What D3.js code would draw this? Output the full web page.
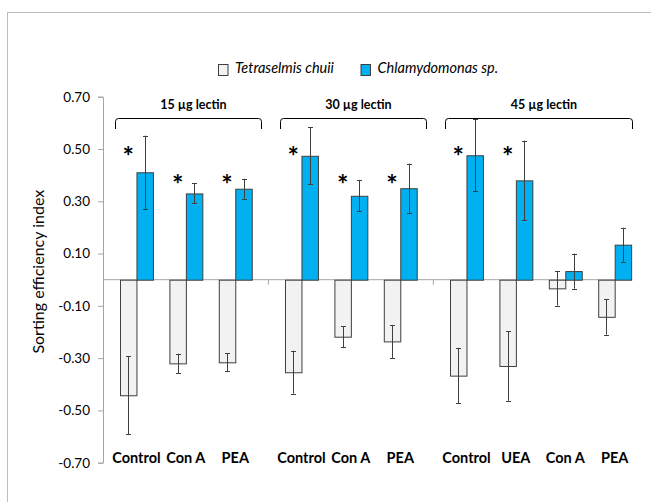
<!DOCTYPE html>
<html>
<head>
<meta charset="utf-8">
<script src="https://cdn.jsdelivr.net/npm/d3@7"></script>
<style>
  html, body { margin: 0; padding: 0; background: #fff; }
  svg { display: block; }
  text { font-family: Lato, "Open Sans", sans-serif; fill: #000; }
</style>
</head>
<body>
<svg id="chart" width="651" height="502"></svg>
<script>
// Lectin treatments, grouped by lectin dose
const groupLabels = ["15 µg lectin", "30 µg lectin", "45 µg lectin"];
const categories = ["Control", "Con A", "PEA", "Control", "Con A", "PEA", "Control", "UEA", "Con A", "PEA"];
const groupIndex = [0, 0, 0, 1, 1, 1, 2, 2, 2, 2];

// Sorting efficiency index (mean) and error for each species
const seriesNames = ["Tetraselmis chuii", "Chlamydomonas sp."];
const tetraselmis = [-0.442, -0.320, -0.316, -0.354, -0.218, -0.236, -0.367, -0.330, -0.033, -0.142];
const tetraselmisErr = [0.150, 0.037, 0.034, 0.082, 0.040, 0.063, 0.106, 0.133, 0.066, 0.068];
const chlamydomonas = [0.411, 0.330, 0.348, 0.474, 0.321, 0.350, 0.476, 0.380, 0.033, 0.134];
const chlamydomonasErr = [0.140, 0.038, 0.038, 0.109, 0.060, 0.094, 0.138, 0.152, 0.067, 0.065];

// Significance markers: height (index units) of the asterisk, null = not significant
const starLevel = [0.49, 0.38, 0.38, 0.49, 0.38, 0.38, 0.49, 0.49, null, null];

const yTicks = [0.70, 0.50, 0.30, 0.10, -0.10, -0.30, -0.50, -0.70];

const colors = ["#f2f2f2", "#00b0f0"];
const barStroke = "#3f3f3f";
const axisColor = "#a6a6a6";

const svg = d3.select("#chart");

// Outer frame
svg.append("rect")
  .attr("x", 7.5).attr("y", 12.5)
  .attr("width", 720).attr("height", 600)
  .attr("fill", "none").attr("stroke", "#bdbdbd").attr("stroke-width", 1);

// Slot positions: one slot per treatment, with an extra gap between dose groups
const groupGap = 0.34;
const slot = categories.map((c, i) => i + groupGap * groupIndex[i]);
const barW = 1 / 3; // each bar is a third of a slot

const x = d3.scaleLinear().domain([-0.344, 10.364]).range([103, 632]);
const y = d3.scaleLinear().domain([-0.7, 0.7]).range([462.7, 96.7]);

// Y axis
const yAxis = d3.axisLeft(y).tickValues(yTicks).tickFormat(d3.format(".2f")).tickSize(5).tickPadding(8);
const yG = svg.append("g").attr("transform", "translate(103,0)").call(yAxis);
yG.select(".domain").attr("stroke", axisColor);
yG.selectAll(".tick line").attr("stroke", axisColor);
yG.selectAll(".tick text")
  .attr("font-family", "Lato, sans-serif").attr("font-size", 13.5).attr("fill", "#000")
  .text(d => d3.format(".2f")(d).replace("−", "-"));

// Y title
svg.append("text")
  .attr("transform", `translate(44,${271.7}) rotate(-90)`)
  .attr("text-anchor", "middle")
  .attr("font-size", 16)
  .text("Sorting efficiency index");

// Zero baseline
svg.append("line")
  .attr("x1", x.range()[0]).attr("x2", x.range()[1])
  .attr("y1", y(0)).attr("y2", y(0))
  .attr("stroke", axisColor);

// Separator ticks between dose groups
const sepSlots = [];
for (let i = 1; i < categories.length; i++) {
  if (groupIndex[i] !== groupIndex[i - 1]) {
    sepSlots.push(((slot[i - 1] + 2 * barW) + slot[i]) / 2);
  }
}
svg.selectAll(".sep").data(sepSlots).join("line")
  .attr("x1", d => x(d)).attr("x2", d => x(d))
  .attr("y1", y(0)).attr("y2", y(0) + 5)
  .attr("stroke", axisColor);

// Bars
const series = [
  { values: tetraselmis, err: tetraselmisErr, offset: 0, color: colors[0] },
  { values: chlamydomonas, err: chlamydomonasErr, offset: barW, color: colors[1] }
];

series.forEach(s => {
  const g = svg.append("g");
  const data = s.values.map((v, i) => ({ v, e: s.err[i], xs: slot[i] + s.offset }));
  g.selectAll("rect").data(data).join("rect")
    .attr("x", d => x(d.xs) + 0.5)
    .attr("width", d => x(d.xs + barW) - x(d.xs))
    .attr("y", d => Math.min(y(d.v), y(0)) + 0.5)
    .attr("height", d => Math.abs(y(d.v) - y(0)))
    .attr("fill", s.color)
    .attr("stroke", barStroke).attr("stroke-width", 1);

  // Error bars
  const eg = g.selectAll(".err").data(data).join("g").attr("class", "err");
  const cx = d => Math.round(x(d.xs + barW / 2)) + 0.5;
  eg.append("line")
    .attr("x1", cx).attr("x2", cx)
    .attr("y1", d => y(d.v + d.e)).attr("y2", d => y(d.v - d.e))
    .attr("stroke", "#3f3f3f").attr("stroke-width", 1);
  [1, -1].forEach(sgn => {
    eg.append("line")
      .attr("x1", d => cx(d) - 2.5).attr("x2", d => cx(d) + 2.5)
      .attr("y1", d => Math.round(y(d.v + sgn * d.e)) + 0.5)
      .attr("y2", d => Math.round(y(d.v + sgn * d.e)) + 0.5)
      .attr("stroke", "#3f3f3f").attr("stroke-width", 1);
  });
});

// Significance asterisks
svg.selectAll(".star")
  .data(starLevel.map((lv, i) => ({ lv, i })).filter(d => d.lv !== null))
  .join("text")
  .attr("class", "star")
  .attr("x", d => x(slot[d.i] + barW / 2))
  .attr("y", d => y(d.lv) + 14)
  .attr("text-anchor", "middle")
  .attr("font-size", 27)
  .attr("font-weight", "bold")
  .text("*");

// Category labels
svg.selectAll(".cat").data(categories).join("text")
  .attr("class", "cat")
  .attr("x", (d, i) => x(slot[i] + barW))
  .attr("y", 463)
  .attr("text-anchor", "middle")
  .attr("font-size", 14.5)
  .attr("font-weight", "bold")
  .text(d => d);

// Dose brackets with labels
const bracketTop = 118.5, bracketBottom = 129, r = 3;
groupLabels.forEach((label, gi) => {
  const idx = d3.range(categories.length).filter(i => groupIndex[i] === gi);
  const x0 = Math.round(x(slot[idx[0]]) - 5) + 0.5;
  const x1 = Math.min(Math.round(x(slot[idx[idx.length - 1]] + 2 * barW) + 9), x.range()[1]) + 0.5;
  const p = d3.path();
  p.moveTo(x0, bracketBottom);
  p.lineTo(x0, bracketTop + r);
  p.quadraticCurveTo(x0, bracketTop, x0 + r, bracketTop);
  p.lineTo(x1 - r, bracketTop);
  p.quadraticCurveTo(x1, bracketTop, x1, bracketTop + r);
  p.lineTo(x1, bracketBottom);
  svg.append("path").attr("d", p.toString())
    .attr("fill", "none").attr("stroke", "#000").attr("stroke-width", 1);
  svg.append("text")
    .attr("x", (x0 + x1) / 2 + 5).attr("y", 108.5)
    .attr("text-anchor", "middle")
    .attr("font-size", 12.5)
    .attr("font-weight", "bold")
    .text(label);
});

// Legend
const legend = [
  { name: seriesNames[0], color: colors[0], x: 218.5 },
  { name: seriesNames[1], color: colors[1], x: 361 }
];
legend.forEach(l => {
  svg.append("rect")
    .attr("x", l.x).attr("y", 64.5).attr("width", 9.5).attr("height", 11)
    .attr("fill", l.color).attr("stroke", barStroke);
  svg.append("text")
    .attr("x", l.x + 16.5).attr("y", 73)
    .attr("font-size", 14.5)
    .attr("font-style", "italic")
    .text(l.name);
});
</script>
</body>
</html>
